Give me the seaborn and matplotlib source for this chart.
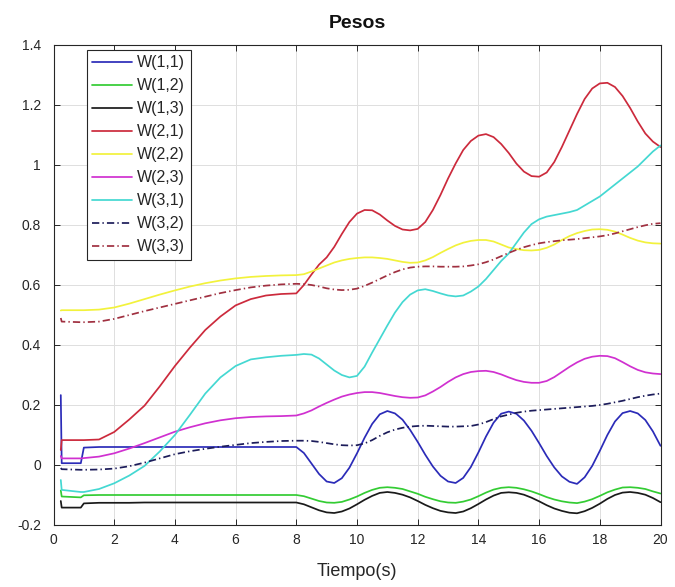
import matplotlib
matplotlib.use("Agg")
import matplotlib.pyplot as plt
from matplotlib.ticker import FuncFormatter, MultipleLocator
import pandas as pd
import seaborn as sns

# Sample instants (s): start-up transient, coarse ramp section, fine oscillating section
tiempo = [0.24, 0.27, 0.9, 1.0,
          1.5, 2.0, 2.5, 3.0, 3.5, 4.0, 4.5, 5.0, 5.5, 6.0, 6.5, 7.0, 7.5,
          8.0, 8.25, 8.5, 8.75, 9.0, 9.25, 9.5, 9.75, 10.0,
          10.25, 10.5, 10.75, 11.0,
          11.25, 11.5, 11.75, 12.0, 12.25, 12.5, 12.75, 13.0, 13.25,
          13.5, 13.75, 14.0, 14.25, 14.5, 14.75, 15.0,
          15.25, 15.5, 15.75, 16.0, 16.25, 16.5, 16.75, 17.0, 17.25,
          17.5, 17.75, 18.0, 18.25, 18.5, 18.75, 19.0,
          19.25, 19.5, 19.75, 20.0]

w11 = [0.233, 0.006, 0.006, 0.058,
       0.060, 0.060, 0.060, 0.060, 0.060, 0.060, 0.060, 0.060, 0.060, 0.060, 0.060, 0.060, 0.060,
       0.060, 0.040, 0.005, -0.030, -0.055, -0.060, -0.044, -0.009, 0.039,
       0.091, 0.137, 0.169, 0.180,
       0.172, 0.151, 0.117, 0.077, 0.034, -0.005, -0.036, -0.055, -0.060,
       -0.043, -0.007, 0.042, 0.095, 0.141, 0.171, 0.178,
       0.171, 0.148, 0.114, 0.073, 0.030, -0.008, -0.038, -0.056, -0.063,
       -0.041, -0.003, 0.047, 0.100, 0.145, 0.173, 0.180,
       0.172, 0.150, 0.112, 0.064]

w12 = [-0.085, -0.105, -0.108, -0.101,
       -0.100, -0.100, -0.100, -0.100, -0.100, -0.100, -0.100, -0.100, -0.100, -0.100, -0.100, -0.100, -0.100,
       -0.100, -0.104, -0.112, -0.120, -0.125, -0.126, -0.123, -0.115, -0.105,
       -0.093, -0.083, -0.076, -0.074,
       -0.076, -0.080, -0.088, -0.096, -0.106, -0.114, -0.121, -0.125, -0.126,
       -0.122, -0.115, -0.104, -0.092, -0.082, -0.076, -0.074,
       -0.076, -0.081, -0.088, -0.097, -0.107, -0.115, -0.121, -0.125, -0.127,
       -0.122, -0.114, -0.103, -0.091, -0.082, -0.075, -0.074,
       -0.076, -0.080, -0.088, -0.095]

w13 = [-0.120, -0.142, -0.142, -0.128,
       -0.126, -0.126, -0.126, -0.125, -0.125, -0.125, -0.125, -0.125, -0.125, -0.125, -0.125, -0.125, -0.125,
       -0.125, -0.131, -0.141, -0.151, -0.158, -0.160, -0.155, -0.145, -0.131,
       -0.116, -0.103, -0.093, -0.090,
       -0.093, -0.099, -0.108, -0.120, -0.133, -0.144, -0.153, -0.158, -0.160,
       -0.155, -0.144, -0.130, -0.115, -0.102, -0.093, -0.091,
       -0.093, -0.099, -0.109, -0.121, -0.134, -0.145, -0.153, -0.159, -0.161,
       -0.154, -0.143, -0.129, -0.113, -0.100, -0.092, -0.090,
       -0.093, -0.099, -0.110, -0.124]

w21 = [0.050, 0.083, 0.083, 0.083,
       0.085, 0.110, 0.152, 0.198, 0.262, 0.330, 0.392, 0.450, 0.495, 0.532, 0.553, 0.565, 0.570,
       0.572, 0.600, 0.635, 0.668, 0.692, 0.727, 0.770, 0.810, 0.838,
       0.850, 0.849, 0.835, 0.815,
       0.797, 0.785, 0.782, 0.787, 0.810, 0.850, 0.900, 0.955, 1.005,
       1.050, 1.080, 1.098, 1.103, 1.093, 1.070, 1.040,
       1.005, 0.978, 0.963, 0.961, 0.975, 1.010, 1.060, 1.115, 1.170,
       1.220, 1.255, 1.272, 1.274, 1.260, 1.230, 1.190,
       1.145, 1.105, 1.078, 1.060]

w22 = [0.515, 0.516, 0.516, 0.516,
       0.518, 0.525, 0.538, 0.553, 0.568, 0.582, 0.595, 0.606, 0.615, 0.622, 0.627, 0.630, 0.632,
       0.633, 0.636, 0.645, 0.655, 0.665, 0.675, 0.682, 0.687, 0.690,
       0.692, 0.692, 0.690, 0.687,
       0.682, 0.677, 0.674, 0.675, 0.682, 0.693, 0.707, 0.720, 0.732,
       0.741, 0.747, 0.750, 0.750, 0.745, 0.735, 0.725,
       0.720, 0.716, 0.715, 0.717, 0.724, 0.735, 0.750, 0.763, 0.773,
       0.780, 0.785, 0.786, 0.784, 0.778, 0.768, 0.757,
       0.748, 0.742, 0.739, 0.738]

w23 = [0.030, 0.022, 0.022, 0.023,
       0.028, 0.039, 0.055, 0.073, 0.092, 0.111, 0.126, 0.139, 0.149, 0.156, 0.160, 0.162, 0.163,
       0.165, 0.172, 0.182, 0.195, 0.207, 0.218, 0.228, 0.235, 0.240,
       0.243, 0.243, 0.240, 0.235,
       0.230, 0.226, 0.224, 0.225, 0.232, 0.245, 0.260, 0.277, 0.292,
       0.303, 0.310, 0.313, 0.314, 0.310, 0.302, 0.292,
       0.283, 0.277, 0.274, 0.274, 0.280, 0.293, 0.310, 0.327, 0.342,
       0.354, 0.361, 0.364, 0.363, 0.356, 0.343, 0.329,
       0.317, 0.309, 0.305, 0.303]

w31 = [-0.050, -0.083, -0.090, -0.090,
       -0.080, -0.061, -0.035, -0.003, 0.045, 0.100, 0.168, 0.238, 0.292, 0.330, 0.352, 0.359, 0.364,
       0.367, 0.370, 0.368, 0.355, 0.335, 0.315, 0.300, 0.292, 0.297,
       0.328, 0.375, 0.420, 0.465,
       0.508, 0.543, 0.568, 0.582, 0.586, 0.580, 0.572, 0.565, 0.562,
       0.565, 0.578, 0.595, 0.620, 0.650, 0.680, 0.705,
       0.740, 0.775, 0.803, 0.819, 0.828, 0.833, 0.838, 0.843, 0.850,
       0.865, 0.880, 0.895, 0.915, 0.935, 0.955, 0.975,
       0.995, 1.020, 1.045, 1.065]

w32 = [-0.010, -0.014, -0.016, -0.016,
       -0.015, -0.012, -0.004, 0.008, 0.022, 0.036, 0.046, 0.054, 0.061, 0.067, 0.073, 0.077, 0.080,
       0.081, 0.081, 0.080, 0.077, 0.073, 0.069, 0.066, 0.065, 0.066,
       0.072, 0.083, 0.097, 0.109,
       0.118, 0.124, 0.128, 0.130, 0.131, 0.130, 0.129, 0.128, 0.128,
       0.129, 0.130, 0.135, 0.143, 0.153, 0.162, 0.168,
       0.174, 0.178, 0.181, 0.183, 0.185, 0.187, 0.189, 0.191, 0.193,
       0.195, 0.197, 0.200, 0.204, 0.209, 0.214, 0.220,
       0.226, 0.231, 0.235, 0.238]

w33 = [0.490, 0.478, 0.476, 0.476,
       0.478, 0.487, 0.500, 0.513, 0.525, 0.537, 0.549, 0.561, 0.573, 0.583, 0.592, 0.598, 0.602,
       0.604, 0.603, 0.600, 0.595, 0.589, 0.585, 0.583, 0.584, 0.588,
       0.597, 0.608, 0.620, 0.632,
       0.643, 0.652, 0.658, 0.661, 0.662, 0.662, 0.661, 0.661, 0.661,
       0.662, 0.665, 0.669, 0.676, 0.685, 0.696, 0.707,
       0.717, 0.726, 0.733, 0.739, 0.743, 0.746, 0.749, 0.751, 0.753,
       0.756, 0.759, 0.762, 0.766, 0.772, 0.779, 0.786,
       0.793, 0.799, 0.804, 0.806]

nombres = ["W(1,1)", "W(1,2)", "W(1,3)", "W(2,1)", "W(2,2)",
           "W(2,3)", "W(3,1)", "W(3,2)", "W(3,3)"]
valores = [w11, w12, w13, w21, w22, w23, w31, w32, w33]

colores = {
    "W(1,1)": "#2b2bb8",
    "W(1,2)": "#33cc33",
    "W(1,3)": "#1a1a1a",
    "W(2,1)": "#cc2a3c",
    "W(2,2)": "#f2f23c",
    "W(2,3)": "#d030d0",
    "W(3,1)": "#44d8d2",
    "W(3,2)": "#1c1c5a",
    "W(3,3)": "#a03040",
}
punto_raya = (4.2, 1.8, 0.8, 1.8)
trazos = {n: "" for n in nombres}
trazos["W(3,2)"] = punto_raya
trazos["W(3,3)"] = punto_raya

df = pd.concat(
    [pd.DataFrame({"Tiempo": tiempo, "Peso": v, "Serie": n}) for n, v in zip(nombres, valores)],
    ignore_index=True,
)

sns.set_style("ticks")
plt.rcParams["font.family"] = ["Liberation Sans", "DejaVu Sans"]

W, H = 675, 587
fig = plt.figure(figsize=(W / 100, H / 100), dpi=100)
fig.patch.set_facecolor("white")
ax = fig.add_axes([53.5 / W, 1 - 525 / H, 607 / W, 480 / H])

sns.lineplot(
    data=df, x="Tiempo", y="Peso", hue="Serie", style="Serie",
    hue_order=nombres, style_order=nombres,
    palette=colores, dashes=trazos, linewidth=1.25,
    estimator=None, sort=False, ax=ax,
)

ax.set_xlim(0, 20)
ax.set_ylim(-0.2, 1.4)
ax.xaxis.set_major_locator(MultipleLocator(2))
ax.yaxis.set_major_locator(MultipleLocator(0.2))
ax.yaxis.set_major_formatter(FuncFormatter(lambda v, p: f"{round(v, 2):g}"))
ax.grid(True, color="#dedede", linewidth=0.7)
ax.set_axisbelow(True)

for s in ax.spines.values():
    s.set_visible(True)
    s.set_color("#262626")
    s.set_linewidth(0.8)
ax.tick_params(axis="both", direction="in", length=4, width=0.7,
               top=True, right=True, colors="#262626", labelsize=10)
ax.tick_params(axis="x", pad=6)
ax.tick_params(axis="y", pad=9)

ax.set_xlabel("Tiempo(s)", fontsize=13, color="#262626", labelpad=11)
ax.set_ylabel("")
ax.set_title("Pesos", fontsize=14, fontweight="bold", color="#111111", pad=12)

handles, labels = ax.get_legend_handles_labels()
leg = ax.legend(
    handles, labels, loc="upper left", bbox_to_anchor=(0.055, 0.99),
    borderaxespad=0, fontsize=11.5, frameon=True, fancybox=False,
    framealpha=1, edgecolor="#262626", handlelength=2.5,
    handletextpad=0.3, labelspacing=0.5, borderpad=0.35,
)
leg.get_frame().set_linewidth(0.8)

fig.savefig("out.png", dpi=100, facecolor="white")
